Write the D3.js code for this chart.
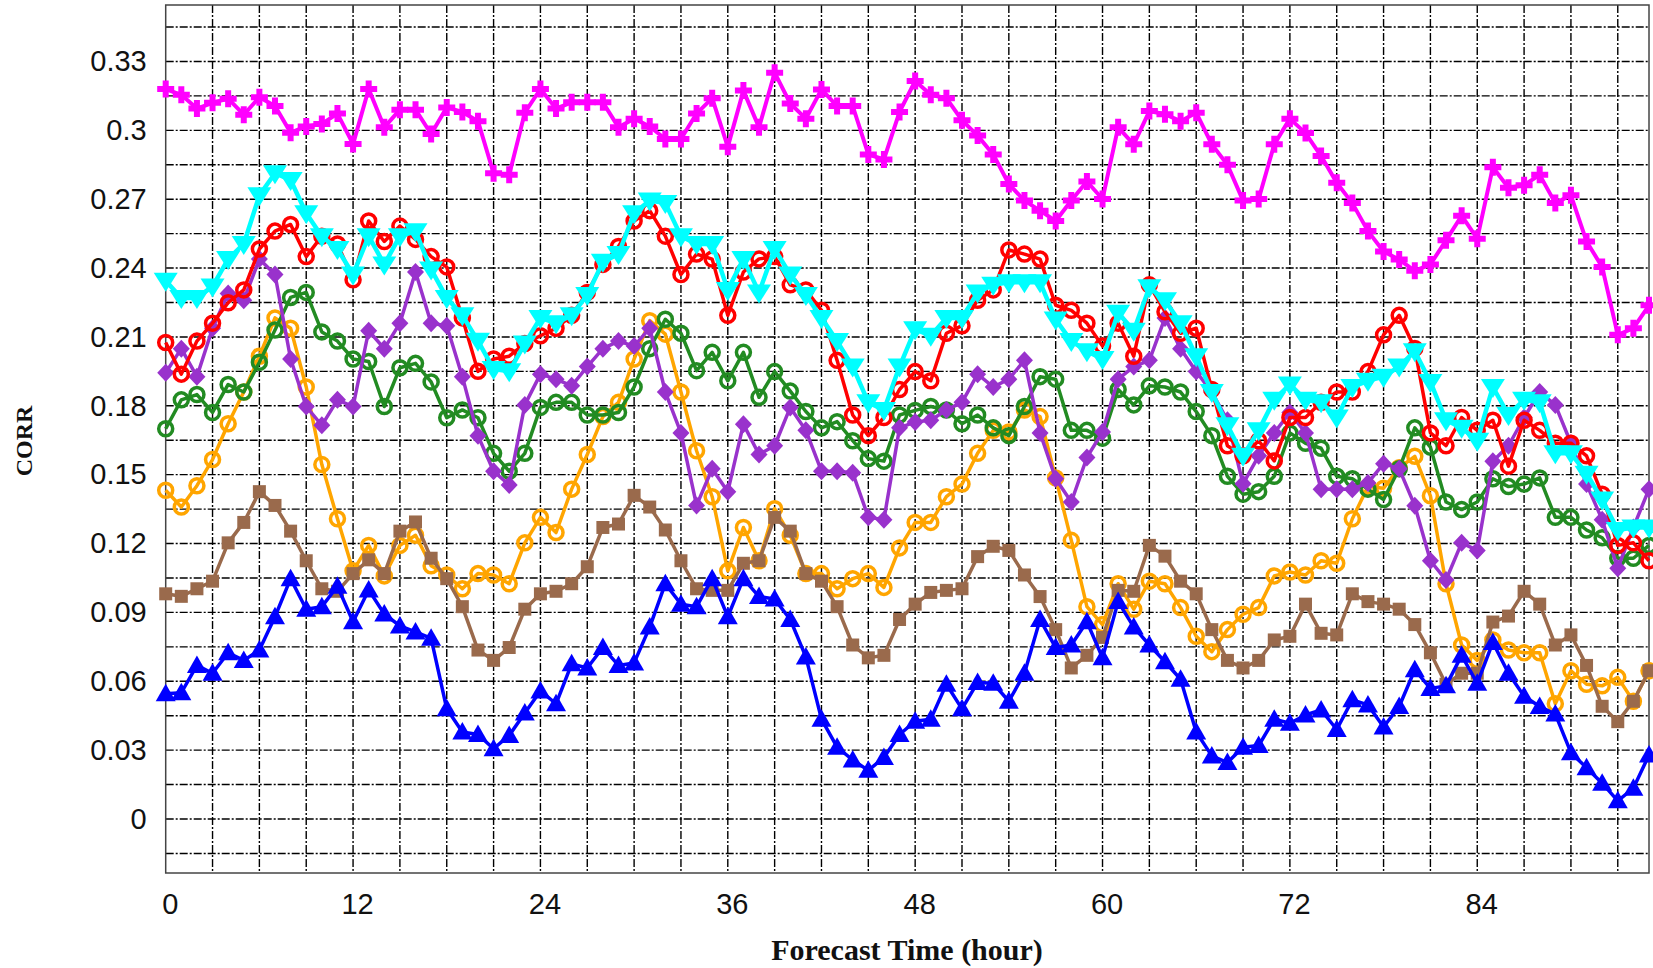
<!DOCTYPE html>
<html><head><meta charset="utf-8">
<script src="https://cdn.jsdelivr.net/npm/d3@7"></script>
<style>html,body{margin:0;padding:0;background:#fff;}svg{display:block;}</style>
</head><body>
<svg id="chart" width="1653" height="968"></svg>
<script>
const hours = d3.range(0, 96);
const xTickValues = [0, 12, 24, 36, 48, 60, 72, 84];
const yTickValues = [0, 0.03, 0.06, 0.09, 0.12, 0.15, 0.18, 0.21, 0.24, 0.27, 0.3, 0.33];
const yTickLabels = ["0", "0.03", "0.06", "0.09", "0.12", "0.15", "0.18", "0.21", "0.24", "0.27", "0.3", "0.33"];

const magentaValues = [0.318,0.3155,0.3095,0.312,0.3138,0.3068,0.3144,0.3106,0.299,0.3017,0.3028,0.3073,0.294,0.318,0.3013,0.309,0.309,0.2984,0.310,0.308,0.304,0.2813,0.2806,0.3077,0.318,0.3095,0.3122,0.3122,0.3122,0.3013,0.3051,0.3017,0.2962,0.2962,0.3073,0.314,0.2928,0.3173,0.3013,0.3251,0.3117,0.3051,0.3178,0.3106,0.3106,0.2895,0.2873,0.308,0.3215,0.3155,0.314,0.3044,0.2977,0.2895,0.2766,0.2694,0.265,0.2605,0.2694,0.2777,0.2701,0.3013,0.2939,0.3084,0.307,0.304,0.3077,0.2939,0.285,0.2694,0.2701,0.2939,0.3051,0.2988,0.2888,0.2772,0.2683,0.2561,0.2472,0.2437,0.2388,0.2416,0.2521,0.2628,0.2528,0.2839,0.275,0.2761,0.2806,0.2683,0.2717,0.2516,0.2405,0.2109,0.2138,0.2238];
const cyanValues = [0.2345,0.227,0.227,0.232,0.2439,0.2505,0.2717,0.2813,0.2784,0.2639,0.2539,0.2483,0.2372,0.2539,0.2416,0.2539,0.256,0.2394,0.227,0.2194,0.2083,0.196,0.195,0.2071,0.2183,0.216,0.2194,0.2283,0.2427,0.2461,0.2639,0.2694,0.2683,0.2539,0.2505,0.2505,0.2305,0.2439,0.2294,0.2483,0.2372,0.2283,0.2183,0.2082,0.1971,0.1815,0.1782,0.1971,0.2133,0.2105,0.2183,0.2183,0.2294,0.2327,0.2338,0.2338,0.2338,0.2176,0.2082,0.2038,0.2004,0.2205,0.2127,0.2316,0.226,0.216,0.2016,0.186,0.1715,0.1582,0.1693,0.1826,0.1893,0.1826,0.1815,0.1749,0.1882,0.1909,0.1927,0.1971,0.2038,0.1904,0.1737,0.1704,0.1648,0.1882,0.176,0.1826,0.1815,0.1593,0.1593,0.1504,0.1392,0.1259,0.127,0.127];
const redValues = [0.2076,0.1938,0.2082,0.216,0.2249,0.2305,0.2483,0.2561,0.259,0.245,0.2539,0.2505,0.2349,0.2605,0.2516,0.2583,0.2525,0.245,0.2405,0.2183,0.195,0.2004,0.2016,0.2071,0.2105,0.2138,0.2194,0.2294,0.2416,0.2494,0.2605,0.265,0.2539,0.2372,0.2461,0.2439,0.2194,0.2383,0.244,0.245,0.2327,0.2305,0.2216,0.1998,0.176,0.167,0.1749,0.1871,0.1949,0.1909,0.2116,0.2149,0.226,0.2305,0.2479,0.2461,0.2439,0.2238,0.2216,0.216,0.206,0.216,0.2016,0.2327,0.221,0.2116,0.2138,0.1871,0.1626,0.1582,0.1648,0.156,0.1749,0.1749,0.1815,0.186,0.186,0.1949,0.2109,0.2194,0.205,0.1682,0.1626,0.1749,0.1693,0.1737,0.1537,0.1737,0.1693,0.1637,0.1637,0.1582,0.1415,0.1192,0.1203,0.1125];
const greenValues = [0.17,0.1826,0.1849,0.1771,0.1893,0.186,0.199,0.213,0.2272,0.2294,0.2122,0.2082,0.2004,0.1993,0.1797,0.1966,0.1985,0.1904,0.1748,0.1782,0.1748,0.1593,0.1515,0.1593,0.1793,0.1815,0.1815,0.176,0.176,0.1771,0.1882,0.2049,0.2177,0.2116,0.1953,0.2033,0.1909,0.2033,0.1837,0.1949,0.1864,0.1775,0.1704,0.1731,0.1648,0.157,0.1559,0.176,0.178,0.1797,0.1782,0.1722,0.176,0.1704,0.167,0.1797,0.1927,0.1916,0.1693,0.1693,0.1659,0.1871,0.1804,0.1887,0.1882,0.186,0.1775,0.167,0.1493,0.1415,0.1426,0.1493,0.1682,0.1637,0.1615,0.1493,0.1482,0.1437,0.1392,0.1526,0.1704,0.162,0.1381,0.1348,0.1381,0.1482,0.1448,0.1459,0.1486,0.1314,0.1314,0.1259,0.1225,0.1136,0.1136,0.1192];
const purpleValues = [0.1944,0.2049,0.1927,0.2138,0.2289,0.226,0.2439,0.2372,0.2004,0.1797,0.1715,0.1826,0.1797,0.2127,0.2049,0.216,0.2383,0.216,0.2149,0.1927,0.167,0.1515,0.1455,0.1804,0.1938,0.1916,0.1887,0.1971,0.2049,0.2082,0.206,0.2138,0.186,0.1682,0.1366,0.1526,0.1426,0.172,0.1588,0.1626,0.1793,0.1693,0.1515,0.1515,0.1508,0.1315,0.1304,0.1704,0.173,0.1737,0.1782,0.1815,0.1938,0.1882,0.1916,0.1998,0.1682,0.1482,0.1381,0.1575,0.1686,0.1916,0.1971,0.1998,0.2183,0.2049,0.1949,0.186,0.1737,0.146,0.1582,0.1682,0.1771,0.1682,0.1437,0.1437,0.1437,0.1464,0.1548,0.1526,0.1365,0.1125,0.1041,0.1203,0.117,0.1559,0.1626,0.1749,0.186,0.1804,0.1637,0.1459,0.1304,0.1092,0.127,0.1437];
const orangeValues = [0.1432,0.1359,0.1452,0.1566,0.1722,0.186,0.2016,0.2183,0.2138,0.1882,0.1544,0.1308,0.1081,0.1192,0.1059,0.1192,0.1236,0.1103,0.1063,0.1003,0.1069,0.1063,0.1025,0.1203,0.1314,0.1248,0.1437,0.1588,0.1753,0.1815,0.2004,0.2171,0.2112,0.186,0.1604,0.1404,0.1081,0.127,0.1125,0.1352,0.1236,0.1069,0.1069,0.1003,0.1047,0.1069,0.1009,0.1181,0.1292,0.1292,0.1404,0.1459,0.1593,0.1693,0.1686,0.1782,0.1753,0.1486,0.1214,0.0925,0.0847,0.1025,0.0914,0.1036,0.1025,0.0921,0.0796,0.0729,0.0825,0.0892,0.0921,0.1059,0.1076,0.1063,0.1125,0.1114,0.1308,0.1448,0.1441,0.153,0.158,0.1408,0.1025,0.0758,0.0691,0.078,0.0736,0.0724,0.0724,0.0502,0.0646,0.0587,0.058,0.0617,0.0513,0.0646];
const brownValues = [0.0981,0.097,0.1003,0.1036,0.1203,0.1292,0.1426,0.1366,0.1254,0.1125,0.1003,0.0992,0.1069,0.1129,0.1069,0.1254,0.1294,0.1136,0.1047,0.0925,0.0736,0.0691,0.0747,0.0914,0.0981,0.0992,0.1025,0.1099,0.127,0.1285,0.141,0.1359,0.1259,0.1125,0.1003,0.0996,0.0996,0.1114,0.1125,0.1314,0.1254,0.1069,0.1036,0.0925,0.0758,0.0702,0.0713,0.0869,0.0936,0.0987,0.0996,0.1003,0.1143,0.1188,0.117,0.1063,0.0969,0.0825,0.0658,0.0713,0.0791,0.0996,0.0992,0.1192,0.1145,0.1036,0.0981,0.0825,0.0691,0.0658,0.0691,0.078,0.0796,0.0936,0.0809,0.0802,0.0981,0.0947,0.0936,0.0914,0.0847,0.0724,0.0587,0.0635,0.0635,0.0858,0.0884,0.0992,0.0936,0.0758,0.0802,0.0669,0.0491,0.0424,0.0513,0.0646];
const blueValues = [0.0546,0.055,0.0669,0.0635,0.0724,0.0691,0.0736,0.0881,0.1047,0.0914,0.0925,0.1014,0.0859,0.0998,0.0893,0.0841,0.0815,0.0787,0.048,0.0379,0.0368,0.0306,0.0364,0.0462,0.0558,0.0502,0.0676,0.0658,0.0747,0.0669,0.068,0.0836,0.1025,0.0936,0.0925,0.1047,0.0881,0.1047,0.0969,0.0958,0.0869,0.0706,0.0435,0.0313,0.0257,0.0212,0.0268,0.0368,0.0426,0.0435,0.0587,0.048,0.0595,0.0591,0.0513,0.0635,0.0869,0.0747,0.0758,0.0859,0.0702,0.0947,0.0836,0.0758,0.0685,0.0609,0.0379,0.0275,0.0246,0.0313,0.032,0.0435,0.0417,0.0453,0.0475,0.039,0.0519,0.0497,0.0401,0.049,0.065,0.0569,0.058,0.0713,0.0591,0.0769,0.0635,0.0535,0.049,0.0457,0.0289,0.0223,0.0156,0.0079,0.0134,0.0279];

// drawing order (bottom to top)
const seriesList = [
  {name: "orange",  values: orangeValues,  color: "#ffa500", marker: "ring",    lw: 3.5},
  {name: "brown",   values: brownValues,   color: "#9a6a4c", marker: "square",  lw: 3.5},
  {name: "blue",    values: blueValues,    color: "#0000ff", marker: "triUp",   lw: 3.5},
  {name: "green",   values: greenValues,   color: "#228b22", marker: "ring",    lw: 3.5},
  {name: "purple",  values: purpleValues,  color: "#9932cc", marker: "diamond", lw: 3.5},
  {name: "red",     values: redValues,     color: "#ff0000", marker: "ring",    lw: 3.5},
  {name: "cyan",    values: cyanValues,    color: "#00ffff", marker: "triDown", lw: 4.5},
  {name: "magenta", values: magentaValues, color: "#ff00ff", marker: "plus",    lw: 4}
];

const svg = d3.select("#chart");
const plot = {left: 165.7, right: 1649, top: 5, bottom: 873};

const x = d3.scaleLinear().domain([0, 95]).range([plot.left, plot.right]);
const y = d3.scaleLinear().domain([-0.02352, 0.3546]).range([plot.bottom, plot.top]);

// grid
const grid = svg.append("g").attr("class", "grid");
const hGrid = d3.range(-1, 24).map(i => i * 0.015);
const vGrid = d3.range(1, 32).map(i => i * 3);
grid.selectAll("line.h").data(hGrid).enter().append("line")
  .attr("x1", plot.left).attr("x2", plot.right)
  .attr("y1", d => y(d)).attr("y2", d => y(d))
  .attr("stroke", "#000").attr("stroke-width", 1.4)
  .attr("stroke-dasharray", "8,2,2,2");
grid.selectAll("line.v").data(vGrid).enter().append("line")
  .attr("y1", plot.top).attr("y2", plot.bottom)
  .attr("x1", d => x(d)).attr("x2", d => x(d))
  .attr("stroke", "#000").attr("stroke-width", 1.4)
  .attr("stroke-dasharray", "8,2,2,2");

// frame
svg.append("rect").attr("x", plot.left).attr("y", plot.top)
  .attr("width", plot.right - plot.left).attr("height", plot.bottom - plot.top)
  .attr("fill", "none").attr("stroke", "#444").attr("stroke-width", 1.5);

// markers
function markerPath(type) {
  switch (type) {
    case "plus": { const a = 8.5, b = 3; return `M${-b},${-a}H${b}V${-b}H${a}V${b}H${b}V${a}H${-b}V${b}H${-a}V${-b}H${-b}Z`; }
    case "triDown": return "M-12,-8L12,-8L0,11Z";
    case "triUp": return "M-10,7.5L10,7.5L0,-10Z";
    case "diamond": return "M0,-9L8.5,0L0,9L-8.5,0Z";
    case "square": return "M-6.5,-6.5H6.5V6.5H-6.5Z";
    default: return null;
  }
}

const line = d3.line().x((d, i) => x(hours[i])).y(d => y(d));
const series = svg.append("g").attr("class", "series");
seriesList.forEach(s => {
  const g = series.append("g").attr("class", "s-" + s.name);
  g.append("path").datum(s.values).attr("d", line)
    .attr("fill", "none").attr("stroke", s.color).attr("stroke-width", s.lw)
    .attr("stroke-linejoin", "round");
  if (s.marker === "ring") {
    g.selectAll("circle").data(s.values).enter().append("circle")
      .attr("cx", (d, i) => x(hours[i])).attr("cy", d => y(d)).attr("r", 7)
      .attr("fill", "none").attr("stroke", s.color).attr("stroke-width", 3.5);
  } else {
    const p = markerPath(s.marker);
    g.selectAll("path.m").data(s.values).enter().append("path").attr("class", "m")
      .attr("d", p)
      .attr("transform", (d, i) => `translate(${x(hours[i])},${y(d)})`)
      .attr("fill", s.color);
  }
});

// axes
const yAxis = d3.axisLeft(y).tickValues(yTickValues)
  .tickFormat((d, i) => yTickLabels[i]).tickSize(0).tickPadding(19);
const ya = svg.append("g").attr("transform", `translate(${plot.left},0)`).call(yAxis);
ya.select(".domain").remove();
ya.selectAll("text").attr("font-family", "Liberation Sans, Arial, sans-serif")
  .attr("font-size", 29).attr("fill", "#111");

const xAxis = d3.axisBottom(x).tickValues(xTickValues).tickFormat(d3.format("d"))
  .tickSize(0).tickPadding(20);
const xa = svg.append("g").attr("transform", `translate(0,${plot.bottom})`).call(xAxis);
xa.select(".domain").remove();
xa.selectAll("text").attr("font-family", "Liberation Sans, Arial, sans-serif")
  .attr("font-size", 29).attr("fill", "#111").attr("dx", 4);

svg.append("text").attr("x", 907).attr("y", 960).attr("text-anchor", "middle")
  .attr("font-family", "Liberation Serif, Times New Roman, serif").attr("font-weight", "bold")
  .attr("font-size", 30).attr("fill", "#111").text("Forecast Time (hour)");

svg.append("text").attr("transform", "translate(32,441) rotate(-90)").attr("text-anchor", "middle")
  .attr("font-family", "Liberation Serif, Times New Roman, serif").attr("font-weight", "bold")
  .attr("font-size", 24).attr("fill", "#111").text("CORR");
</script>
</body></html>
